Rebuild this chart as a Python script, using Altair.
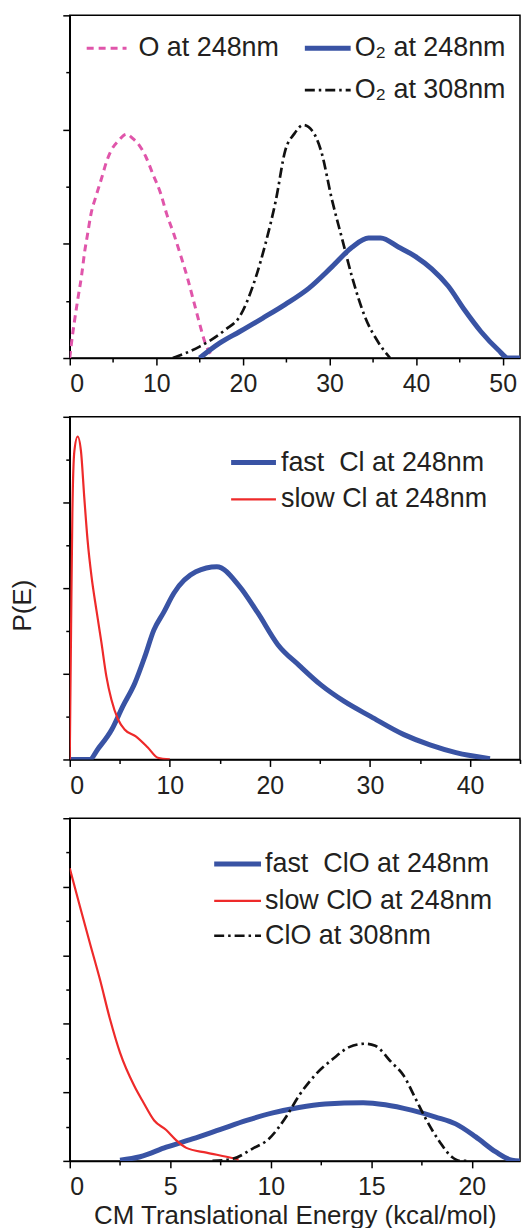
import altair as alt
import pandas as pd

FONT = "Liberation Sans"
TXT = "#231f20"
BLUE = "#3953a4"
RED = "#ee2a2a"
PINK = "#e055aa"
BLACK = "#111111"

W, H = 452, 344

# ---------------- Panel 1 : O / O2 ----------------
p1_labels = ["O at 248nm", "O\u2082 at 248nm", "O\u2082 at 308nm"]
o248_x = [0, 0.15, 0.54, 0.92, 1.38, 1.7, 2.07, 2.45, 3.0, 3.7, 4.25, 4.8, 5.6, 6.55, 7.3, 8.05,
          8.8, 9.6, 10.5, 11.2, 12.0, 12.8, 13.6, 14.3, 15.0, 15.6, 16.3]
o248_y = [0, 0.10, 0.32, 0.51, 0.73, 0.92, 1.09, 1.26, 1.41, 1.58, 1.72, 1.82, 1.90, 1.96, 1.92, 1.86,
          1.76, 1.61, 1.44, 1.26, 1.09, 0.90, 0.70, 0.50, 0.30, 0.14, 0.03]
o2_248_x = [15.0, 17.3, 19.6, 22.3, 24.9, 27.6, 30.3, 32.6, 34.5, 35.9, 38.0, 39.9, 41.8, 43.7,
            45.6, 47.5, 49.5, 50.6, 52.0]
o2_248_y = [0, 0.13, 0.23, 0.35, 0.47, 0.61, 0.80, 0.97, 1.05, 1.05, 0.97, 0.89, 0.78, 0.63,
            0.42, 0.23, 0.07, 0, 0]
o2_308_x = [11.9, 15.0, 18.0, 19.6, 21.5, 22.6, 23.8, 24.9, 25.9, 27.0, 28.0, 29.0, 30.3, 31.5,
            32.6, 34.1, 35.7, 37.0]
o2_308_y = [0, 0.10, 0.25, 0.36, 0.71, 1.0, 1.38, 1.82, 1.96, 2.04, 1.99, 1.82, 1.38, 1.03,
            0.71, 0.36, 0.13, 0]

# ---------------- Panel 2 : Cl ----------------
p2_labels = ["fast\u00a0 Cl at 248nm", "slow Cl at 248nm"]
cl_fast_x = [0, 2.0, 2.8, 4.2, 5.3, 6.5, 7.5, 8.4, 9.4, 10.4, 12.6, 14.7, 16.9, 18.8, 20.8, 23.0,
             25.1, 27.4, 30.1, 33.4, 36.0, 38.6, 42.0]
cl_fast_y = [0, 0, 0.12, 0.35, 0.62, 0.89, 1.20, 1.51, 1.72, 1.94, 2.19, 2.25, 2.03, 1.71, 1.34, 1.09,
             0.87, 0.68, 0.50, 0.29, 0.17, 0.08, 0.01]
cl_slow_x = [0, 0.05, 0.13, 0.26, 0.46, 0.79, 1.12, 1.45, 1.78, 2.18, 2.67, 3.17, 3.66, 4.16, 4.82,
             5.48, 6.6, 7.8, 8.8, 10.0]
cl_slow_y = [0, 0.6, 1.51, 2.87, 3.60, 3.77, 3.60, 3.06, 2.56, 2.13, 1.74, 1.36, 0.97, 0.70, 0.47,
             0.35, 0.27, 0.14, 0.02, 0]

# ---------------- Panel 3 : ClO ----------------
p3_labels = ["fast\u00a0 ClO at 248nm", "slow ClO at 248nm", "ClO at 308nm"]
clo_fast_x = [2.5, 3.5, 4.8, 6.1, 7.5, 8.8, 10.1, 11.4, 12.7, 14.6, 15.7, 17.0, 18.2, 19.2, 20.2,
              21.2, 22.0, 22.4]
clo_fast_y = [0.01, 0.06, 0.20, 0.32, 0.46, 0.59, 0.70, 0.78, 0.83, 0.85, 0.82, 0.74, 0.64, 0.54,
              0.35, 0.13, 0.01, 0]
clo_slow_x = [0, 0.5, 1.0, 1.5, 2.0, 2.5, 3.2, 3.65, 4.2, 4.8, 5.3, 5.8, 6.8, 7.8, 8.4]
clo_slow_y = [4.27, 3.72, 3.18, 2.65, 2.07, 1.58, 1.10, 0.86, 0.59, 0.45, 0.30, 0.19, 0.12, 0.06, 0.02]
clo_308_x = [7.1, 8.1, 9.1, 9.9, 10.8, 11.4, 12.2, 13.1, 13.9, 14.7, 15.2, 16.0, 16.6, 17.2, 17.7,
             18.4, 19.0, 19.4, 19.8]
clo_308_y = [0, 0.03, 0.18, 0.32, 0.66, 0.95, 1.25, 1.49, 1.66, 1.71, 1.68, 1.44, 1.25, 0.91, 0.62,
             0.28, 0.06, 0, 0]

x_title = "CM Translational Energy (kcal/mol)"
y_title = "P(E)"

STYLE = {
    "blue": dict(color=BLUE, strokeWidth=5),
    "red": dict(color=RED, strokeWidth=2.2),
    "pink": dict(color=PINK, strokeWidth=3, strokeDash=[7, 5]),
    "dashdot": dict(color=BLACK, strokeWidth=2.7, strokeDash=[10, 4, 2.5, 4]),
}

LEG_FS = 27


def x_enc(dom, major, minor_step, title=None):
    vals = []
    v = 0.0
    while v <= dom[1] + 1e-9:
        vals.append(round(v, 3))
        v += minor_step
    ax = alt.Axis(
        values=vals,
        labelExpr=f"datum.value % {major} === 0 ? '' + datum.value : ''",
        tickSize={"condition": {"test": f"datum.value % {major} === 0", "value": 7}, "value": 4},
        labelPadding=7,
        title=title if title else "",
        titlePadding=3,
    )
    return alt.X("E:Q", scale=alt.Scale(domain=dom, nice=False, zero=False), axis=ax)


def y_enc(top, title=None):
    vals = [i * 0.5 for i in range(int(top * 2) + 1)]
    kw = dict(
        values=vals,
        labels=False,
        tickSize={"condition": {"test": "datum.value % 1 === 0", "value": 7}, "value": 4},
        title=title if title else "",
    )
    if title:
        kw.update(titlePadding=27, titleY=189, titleFontSize=26)
    return alt.Y("P:Q", scale=alt.Scale(domain=[0, top], nice=False), axis=alt.Axis(**kw))


def curve(xs, ys, style, xe, ye):
    df = pd.DataFrame({"E": xs, "P": ys})
    return alt.Chart(df).mark_line(clip=True, interpolate="monotone", **STYLE[style]).encode(x=xe, y=ye)


ONE = pd.DataFrame({"k": [0]})


def legend_item(label, style, x0, x1, y, tx):
    line = alt.Chart(ONE).mark_rule(**STYLE[style]).encode(
        x=alt.value(x0), x2=alt.value(x1), y=alt.value(y))
    text = alt.Chart(ONE).mark_text(
        text=label, align="left", baseline="middle", font=FONT, fontSize=LEG_FS, color=TXT
    ).encode(x=alt.value(tx), y=alt.value(y))
    return [line, text]


# Panel 1
xe1 = x_enc([0, 52], 10, 5)
ye1 = y_enc(3)
p1 = alt.layer(
    curve(o248_x, o248_y, "pink", xe1, ye1),
    curve(o2_308_x, o2_308_y, "dashdot", xe1, ye1),
    curve(o2_248_x, o2_248_y, "blue", xe1, ye1),
    *legend_item(p1_labels[0], "pink", 17, 57, 33, 69),
    *legend_item(p1_labels[1], "blue", 236, 282, 33, 286),
    *legend_item(p1_labels[2], "dashdot", 236, 282, 75, 286),
).properties(width=W, height=H)

# Panel 2
xe2 = x_enc([0, 45], 10, 5)
ye2 = y_enc(4, y_title)
p2 = alt.layer(
    curve(cl_fast_x, cl_fast_y, "blue", xe2, ye2),
    curve(cl_slow_x, cl_slow_y, "red", xe2, ye2),
    *legend_item(p2_labels[0], "blue", 162, 207, 46, 212),
    *legend_item(p2_labels[1], "red", 162, 207, 83, 212),
).properties(width=W, height=H)

# Panel 3
xe3 = x_enc([0, 22.4], 5, 2.5, x_title)
ye3 = y_enc(5)
p3 = alt.layer(
    curve(clo_fast_x, clo_fast_y, "blue", xe3, ye3),
    curve(clo_slow_x, clo_slow_y, "red", xe3, ye3),
    curve(clo_308_x, clo_308_y, "dashdot", xe3, ye3),
    *legend_item(p3_labels[0], "blue", 145, 192, 46, 196),
    *legend_item(p3_labels[1], "red", 145, 192, 83, 196),
    *legend_item(p3_labels[2], "dashdot", 145, 192, 118, 196),
).properties(width=W, height=H)

chart = alt.vconcat(p1, p2, p3, spacing=17).properties(
    padding={"left": 0, "top": 3, "right": 0, "bottom": 0}
).configure_view(stroke="black", strokeWidth=1.5).configure_axis(
    grid=False,
    domainColor="black",
    domainWidth=1.5,
    tickColor="black",
    tickWidth=1.5,
    labelFont=FONT,
    labelFontSize=25,
    labelColor=TXT,
    titleFont=FONT,
    titleFontSize=26,
    titleFontWeight="normal",
    titleColor=TXT,
)

chart.save("out.html", embed_options={"renderer": "svg", "actions": False})
